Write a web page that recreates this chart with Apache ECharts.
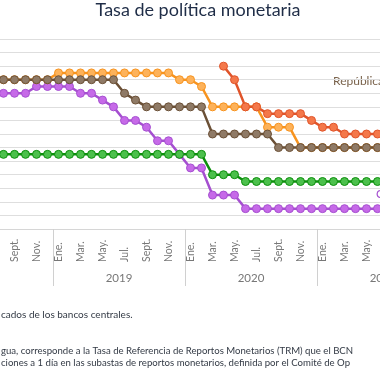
<!DOCTYPE html>
<html>
<head>
<meta charset="utf-8">
<script src="https://cdn.jsdelivr.net/npm/echarts@6/dist/echarts.min.js"></script>
<style>
html,body{margin:0;padding:0;background:#fff;overflow:hidden;width:380px;height:380px;}
#c{position:absolute;left:-100px;top:0;width:580px;height:380px;}
</style>
</head>
<body>
<div id="c"></div>
<script>
// Month categories Jan 2018 .. Dec 2021
const monthNames = ['Ene.','Feb.','Mar.','Abr.','May.','Jun.','Jul.','Ago.','Sept.','Oct.','Nov.','Dic.'];
const years = ['2018','2019','2020','2021'];
const months = [];
years.forEach(function(y){ monthNames.forEach(function(m){ months.push(m); }); });

const _ = null;
// Honduras
const honduras = [_,_,_,_,_,_,5.5,5.5,5.5,5.5,5.5,5.5,
  5.75,5.75,5.75,5.75,5.75,5.75,5.75,5.75,5.75,5.75,5.75,5.5,
  5.5,5.25,4.5,4.5,4.5,4.5,4.5,3.75,3.75,3.75,3.0,3.0,
  3.0,3.0,3.0,3.0,3.0,3.0,3.0,_,_,_,_,_];
// República Dominicana
const repDominicana = [_,_,_,_,_,_,5.5,5.5,5.5,5.5,5.5,5.5,
  5.5,5.5,5.5,5.5,5.5,5.5,5.0,4.75,4.5,4.5,4.5,4.5,
  4.5,4.5,3.5,3.5,3.5,3.5,3.5,3.5,3.0,3.0,3.0,3.0,
  3.0,3.0,3.0,3.0,3.0,3.0,3.0,_,_,_,_,_];
// Costa Rica
const costaRica = [_,_,_,_,_,_,5.0,5.0,5.0,5.0,5.25,5.25,
  5.25,5.25,5.0,5.0,4.75,4.5,4.0,4.0,3.75,3.25,3.25,2.75,
  2.25,2.25,1.25,1.25,1.25,0.75,0.75,0.75,0.75,0.75,0.75,0.75,
  0.75,0.75,0.75,0.75,0.75,0.75,0.75,_,_,_,_,_];
// Guatemala
const guatemala = [_,_,_,_,_,_,2.75,2.75,2.75,2.75,2.75,2.75,
  2.75,2.75,2.75,2.75,2.75,2.75,2.75,2.75,2.75,2.75,2.75,2.75,
  2.75,2.75,2.0,2.0,2.0,1.75,1.75,1.75,1.75,1.75,1.75,1.75,
  1.75,1.75,1.75,1.75,1.75,1.75,1.75,_,_,_,_,_];
// Nicaragua (TRM)
const nicaragua = [_,_,_,_,_,_,_,_,_,_,_,_,
  _,_,_,_,_,_,_,_,_,_,_,_,
  _,_,_,6.0,5.5,4.5,4.5,4.25,4.25,4.25,4.25,4.0,
  3.75,3.75,3.5,3.5,3.5,3.5,3.5,_,_,_,_,_];

function mk(name, data, line, fill){
  return {
    name: name, type: 'line', data: data, symbol: 'circle', symbolSize: 8,
    showAllSymbol: true,
    lineStyle: {color: line, width: 2.5},
    itemStyle: {color: fill, borderColor: line, borderWidth: 1},
    emphasis: {disabled: true}
  };
}

const OX = 100; // container shifted left by this many pixels
const chart = echarts.init(document.getElementById('c'), null, {renderer: 'canvas'});
chart.setOption({
  animation: false,
  title: {
    text: 'Tasa de política monetaria', left: 198 + OX, top: 1, textAlign: 'center', padding: 0,
    textStyle: {fontFamily: 'Lato', fontSize: 18, fontWeight: 'normal', color: '#1f2d47'}
  },
  grid: {left: 21, width: 528, top: 39, bottom: 151},
  xAxis: [{
    type: 'category', data: months, boundaryGap: true, position: 'bottom',
    axisLine: {show: true, lineStyle: {color: '#d6d6d6', width: 1}},
    axisTick: {show: false},
    axisLabel: {interval: 1, rotate: 90, align: 'left', margin: 33,
      fontFamily: 'Lato', fontSize: 10.5, color: '#777'}
  }, {
    type: 'category', data: years, boundaryGap: true, position: 'bottom',
    axisLine: {show: false},
    axisTick: {show: true, length: 57, lineStyle: {color: '#d0d0d0', width: 1}},
    axisLabel: {margin: 43, fontFamily: 'Lato', fontSize: 11.5, color: '#777'}
  }],
  yAxis: {
    type: 'value', min: 0, max: 7, interval: 0.5,
    axisLabel: {show: false}, axisLine: {show: false}, axisTick: {show: false},
    splitLine: {lineStyle: {color: '#dedede', width: 1}}
  },
  series: [
    mk('Costa Rica', costaRica, '#a54fd0', '#c66ae8'),
    mk('Guatemala', guatemala, '#0c8e0c', '#4cc04c'),
    mk('Honduras', honduras, '#f7931e', '#fdb25a'),
    mk('República Dominicana', repDominicana, '#6b5036', '#8f7a66'),
    mk('Nicaragua', nicaragua, '#e0542a', '#f4784a')
  ],
  graphic: [
    {type: 'text', left: 333 + OX, top: 75, style: {text: 'República Dominicana', fill: '#7a634c', font: '12px Lato'}},
    {type: 'text', left: 376 + OX, top: 188, style: {text: 'Costa Rica', fill: '#a54fd0', font: '12px Lato'}},
    {type: 'text', left: 1 + OX, top: 310, style: {text: 'cados de los bancos centrales.', fill: '#333a45', font: '10px Lato'}},
    {type: 'text', left: 1 + OX, top: 346, style: {text: 'gua, corresponde a la Tasa de Referencia de Reportos Monetarios (TRM) que el BCN', fill: '#333a45', font: '9.6px Lato'}},
    {type: 'text', left: 1 + OX, top: 357.5, style: {text: 'ciones a 1 día en las subastas de reportos monetarios, definida por el Comité de Op', fill: '#333a45', font: '9.6px Lato'}}
  ]
});
</script>
</body>
</html>
